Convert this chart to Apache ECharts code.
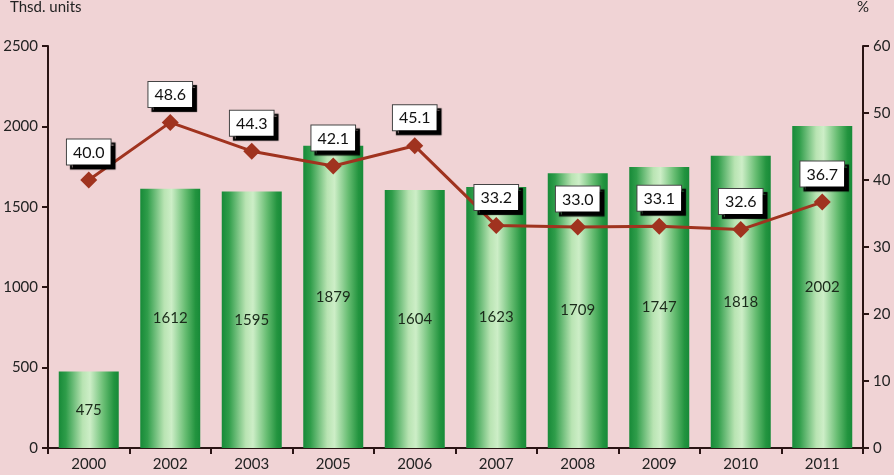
<!DOCTYPE html>
<html><head><meta charset="utf-8">
<script src="https://cdn.jsdelivr.net/npm/echarts@6/dist/echarts.min.js"></script>
<style>html,body{margin:0;padding:0;background:#f0d3d5;}#c{width:894px;height:475px;}</style>
</head><body><div id="c"></div>
<script>
var categories = ['2000','2002','2003','2005','2006','2007','2008','2009','2010','2011'];
var units = [475,1612,1595,1879,1604,1623,1709,1747,1818,2002];
var percent = [40.0,48.6,44.3,42.1,45.1,33.2,33.0,33.1,32.6,36.7];
var leftTicks = [0,500,1000,1500,2000,2500];
var rightTicks = [0,10,20,30,40,50,60];

var FONT = 'Lato';
var chart = echarts.init(document.getElementById('c'));
var axisColor = '#2a1414';
chart.setOption({
  backgroundColor: '#f0d3d5',
  animation: false,
  textStyle: {fontFamily: FONT},
  graphic: [
    {type:'text', left: 10, top: 0, style:{text:'Thsd. units', font:'15px '+FONT, fill:'#222'}},
    {type:'text', left: 857, top: 0, style:{text:'%', font:'15px '+FONT, fill:'#222'}}
  ],
  grid: {left: 48, right: 31, top: 46, bottom: 27},
  xAxis: {
    type: 'category', data: categories, boundaryGap: true,
    axisLine: {lineStyle:{color: axisColor, width: 2}},
    axisTick: {show: true, alignWithLabel: false, length: 6, lineStyle:{color: axisColor, width: 2}},
    axisLabel: {color:'#222', fontSize: 15, margin: 9, fontFamily: FONT}
  },
  yAxis: [
    {type:'value', min: leftTicks[0], max: leftTicks[leftTicks.length-1], interval: 500,
     axisLine:{show:true, lineStyle:{color: axisColor, width: 2}},
     axisTick:{show:true, length: 6, lineStyle:{color: axisColor, width: 2}},
     splitLine:{show:false},
     axisLabel:{color:'#222', fontSize: 15, margin: 10, fontFamily: FONT,
       formatter: function(v){return String(v);}}},
    {type:'value', min: rightTicks[0], max: rightTicks[rightTicks.length-1], interval: 10, position:'right',
     axisLine:{show:true, lineStyle:{color: axisColor, width: 2}},
     axisTick:{show:true, length: 6, lineStyle:{color: axisColor, width: 2}},
     splitLine:{show:false},
     axisLabel:{color:'#222', fontSize: 15, margin: 10, fontFamily: FONT}}
  ],
  series: [
    {type:'bar', data: units, barWidth: 60, yAxisIndex: 0,
     itemStyle:{color: new echarts.graphic.LinearGradient(0,0,1,0,[
       {offset:0, color:'#178a38'},
       {offset:0.12, color:'#2f9d4a'},
       {offset:0.4, color:'#b9e4b3'},
       {offset:0.52, color:'#cdeec7'},
       {offset:0.75, color:'#67bd72'},
       {offset:0.92, color:'#23943f'},
       {offset:1, color:'#178a38'}
     ])},
     label:{show:true, position:'inside', color:'#1a2a1a', fontSize: 15, fontFamily: FONT}
    },
    {type:'line', data: percent, yAxisIndex: 1,
     lineStyle:{color:'#a0331f', width: 3},
     itemStyle:{color:'#a0331f'},
     symbol:'diamond', symbolSize: 17,
     label:{show:true, position:'top', distance: 7,
       formatter: function(p){return p.value.toFixed(1);},
       color:'#111', fontSize: 16, fontFamily: FONT,
       backgroundColor:'#fff', borderColor:'#444', borderWidth: 1,
       padding:[5,6,4,6],
       shadowColor:'#000', shadowOffsetX: 4, shadowOffsetY: 4, shadowBlur: 1}
    }
  ]
});
</script></body></html>
